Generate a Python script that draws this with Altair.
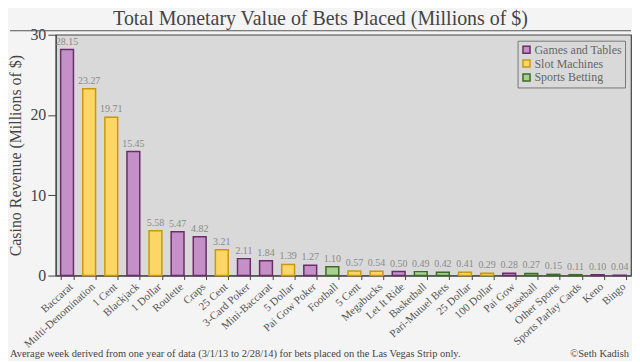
import altair as alt
import pandas as pd

categories = ["Baccarat", "Multi-Denomination", "1 Cent", "Blackjack", "1 Dollar", "Roulette",
              "Craps", "25 Cent", "3-Card Poker", "Mini-Baccarat", "5 Dollar", "Pai Gow Poker",
              "Football", "5 Cent", "Megabucks", "Let It Ride", "Basketball", "Pari-Mutuel Bets",
              "25 Dollar", "100 Dollar", "Pai Gow", "Baseball", "Other Sports",
              "Sports Parlay Cards", "Keno", "Bingo"]
values = [28.15, 23.27, 19.71, 15.45, 5.58, 5.47, 4.82, 3.21, 2.11, 1.84, 1.39, 1.27,
          1.10, 0.57, 0.54, 0.50, 0.49, 0.42, 0.41, 0.29, 0.28, 0.27, 0.15, 0.11, 0.10, 0.04]
G, S, B = "Games and Tables", "Slot Machines", "Sports Betting"
groups = [G, S, S, G, S, G, G, S, G, G, S, G, B, S, S, G, B, B, S, S, G, B, B, B, G, G]
y_ticks = [0, 10, 20, 30]

group_order = [G, S, B]
fill_colors = ["#c590c7", "#fdd766", "#a9d08e"]
stroke_colors = ["#6a2c6a", "#c9980c", "#3c6b28"]

TITLE = "Total Monetary Value of Bets Placed (Millions of $)"
FOOT_L = "Average week derived from one year of data (3/1/13 to 2/28/14) for bets placed on the Las Vegas Strip only."
FOOT_R = "©Seth Kadish"

df = pd.DataFrame({
    "cat": categories,
    "val": values,
    "grp": groups,
    "label": [f"{v:.2f}" for v in values],
})
one = pd.DataFrame({"k": [0]})

FONT = "Liberation Serif"
W, H = 578, 242
LEFT = 46  # distance from chart left edge to plot area

x = alt.X("cat:N", sort=categories,
          scale=alt.Scale(paddingInner=0.42, paddingOuter=0.22),
          axis=alt.Axis(title=None, labelAngle=-42, labelFont=FONT, labelFontSize=11,
                        labelColor="#555", tickBand="extent", tickSize=4, tickColor="#444",
                        domainColor="#444", labelPadding=1))
y = alt.Y("val:Q", scale=alt.Scale(domain=[0, 30], nice=False),
          axis=alt.Axis(title="Casino Revenue (Millions of $)", values=y_ticks, grid=False,
                        labelFont=FONT, labelFontSize=16, labelColor="#444",
                        titleFont=FONT, titleFontSize=16, titleFontWeight="normal",
                        titleColor="#444", tickSize=8, tickColor="#444", domainColor="#444",
                        labelPadding=2, titlePadding=6))

legend = alt.Legend(title=None, orient="none", legendX=W - 114, legendY=6,
                    fillColor="#d9d9d9", strokeColor="#777", padding=3,
                    symbolType="square", symbolSize=50, symbolStrokeWidth=1.5,
                    labelFont=FONT, labelFontSize=12, labelColor="#666",
                    rowPadding=0, symbolOffset=0, labelOffset=2)

bars = alt.Chart(df).mark_bar(strokeWidth=1.5).encode(
    x=x, y=y,
    fill=alt.Fill("grp:N", scale=alt.Scale(domain=group_order, range=fill_colors), legend=legend),
    stroke=alt.Stroke("grp:N", scale=alt.Scale(domain=group_order, range=stroke_colors), legend=legend),
)

labels = alt.Chart(df).mark_text(font=FONT, fontSize=10, color="#8a8a8a", dy=-3,
                                 baseline="bottom").encode(
    x=alt.X("cat:N", sort=categories), y="val:Q", text="label:N")

title = alt.Chart(one).mark_text(font=FONT, fontSize=20, color="#444", align="center",
                                 baseline="alphabetic").encode(
    x=alt.value(320 - 8 - LEFT), y=alt.value(-10), text=alt.value(TITLE))

rule = alt.Chart(one).mark_rule(color="#555", strokeWidth=1.2).encode(
    x=alt.value(-LEFT), x2=alt.value(W), y=alt.value(-4))

foot_l = alt.Chart(one).mark_text(font=FONT, fontSize=10.5, color="#444", align="left",
                                  baseline="alphabetic").encode(
    x=alt.value(-LEFT), y=alt.value(H + 82), text=alt.value(FOOT_L))
foot_r = alt.Chart(one).mark_text(font=FONT, fontSize=10.5, color="#444", align="right",
                                  baseline="alphabetic").encode(
    x=alt.value(W - 2), y=alt.value(H + 82), text=alt.value(FOOT_R))

chart = alt.layer(bars, labels, title, rule, foot_l, foot_r).properties(
    width=W, height=H,
    padding=0,
    background="#f4f4f4",
).configure_view(fill="#d9d9d9", stroke="#444", strokeWidth=1.2)

chart.save("out.html", embed_options={"renderer": "svg", "actions": False})
